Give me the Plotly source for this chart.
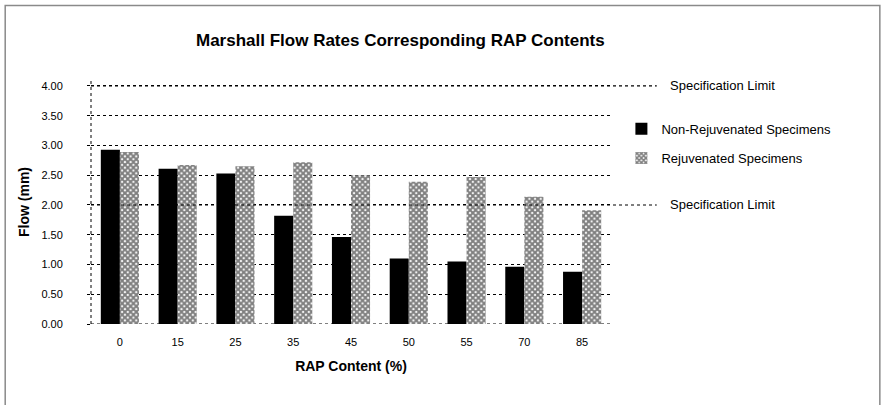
import plotly.graph_objects as go

# RAP content categories and Marshall flow values (mm)
rap_content = ["0", "15", "25", "35", "45", "50", "55", "70", "85"]
flow_non_rejuvenated = [2.93, 2.61, 2.53, 1.82, 1.46, 1.10, 1.05, 0.96, 0.88]
flow_rejuvenated = [2.89, 2.67, 2.65, 2.72, 2.50, 2.39, 2.47, 2.14, 1.91]

# Upper and lower specification limits (mm)
spec_limits = [4.00, 2.00]
spec_label = "Specification Limit"

y_ticks = [0.0, 0.5, 1.0, 1.5, 2.0, 2.5, 3.0, 3.5, 4.0]

FONT = "Liberation Sans, Arial, sans-serif"

fig = go.Figure()

fig.add_trace(go.Bar(
    x=rap_content, y=flow_non_rejuvenated,
    name="Non-Rejuvenated Specimens",
    marker=dict(color="black", line=dict(width=0)),
    legend="legend",
))
fig.add_trace(go.Bar(
    x=rap_content, y=flow_rejuvenated,
    name="Rejuvenated Specimens",
    marker=dict(color="white", line=dict(width=0),
                pattern=dict(shape="x", fgcolor="black", bgcolor="white",
                             size=4, solidity=0.75)),
    legend="legend2",
))

shapes = []
annotations = []

# dotted value axis line and dotted category baseline
shapes.append(dict(type="line", xref="paper", yref="paper",
                   x0=0, x1=0, y0=0, y1=1,
                   line=dict(color="black", width=1, dash="dot")))
shapes.append(dict(type="line", xref="paper", yref="y",
                   x0=0, x1=1, y0=y_ticks[0], y1=y_ticks[0],
                   line=dict(color="black", width=1, dash="dot"),
                   layer="below"))

# specification limit lines running out to their labels
for lim in spec_limits:
    shapes.append(dict(type="line", xref="paper", yref="y",
                       x0=0, x1=1.088, y0=lim, y1=lim,
                       line=dict(color="black", width=1.2, dash="dot")))
    annotations.append(dict(xref="paper", yref="y", x=1.11, y=lim,
                            text=spec_label, showarrow=False,
                            xanchor="left", yanchor="middle",
                            font=dict(size=13, color="black", family=FONT)))

# chart frame
shapes.append(dict(type="rect", xref="paper", yref="paper",
                   x0=-0.165, x1=1.517, y0=-0.5, y1=1.305,
                   line=dict(color="#8a8a8a", width=1.5), layer="below"))

annotations.append(dict(xref="paper", yref="paper", x=0.595, y=1.16,
                        text="<b>Marshall Flow Rates Corresponding RAP Contents</b>",
                        showarrow=False, xanchor="center", yanchor="middle",
                        font=dict(size=17, color="black", family=FONT)))

fig.update_layout(
    width=884, height=405,
    margin=dict(l=91, r=273, t=80, b=81),
    paper_bgcolor="white", plot_bgcolor="white",
    font=dict(family=FONT, color="black", size=11),
    barmode="group", bargap=0.34, bargroupgap=0.0,
    showlegend=True,
    legend=dict(x=1.02, y=0.80, xanchor="left", yanchor="middle",
                font=dict(size=13), bgcolor="rgba(0,0,0,0)",
                itemwidth=30),
    legend2=dict(x=1.02, y=0.68, xanchor="left", yanchor="middle",
                 font=dict(size=13), bgcolor="rgba(0,0,0,0)",
                 itemwidth=30),
    shapes=shapes,
    annotations=annotations,
)

fig.update_xaxes(
    title=dict(text="<b>RAP Content (%)</b>", font=dict(size=14), standoff=14),
    showline=False, showgrid=False, ticks="", tickfont=dict(size=11),
    ticklabelstandoff=10,
)
fig.update_yaxes(
    title=dict(text="<b>Flow (mm)</b>", font=dict(size=14), standoff=8),
    range=[0, 4.1], tickvals=y_ticks, tickformat=".2f",
    showgrid=True, gridcolor="black", griddash="dot", gridwidth=1,
    zeroline=False, showline=False, ticks="outside", ticklen=3,
    tickcolor="black", tickfont=dict(size=11), ticklabelstandoff=22,
)

fig.write_html("out.html")
